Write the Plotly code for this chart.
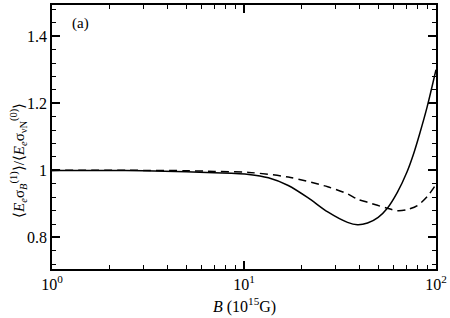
import plotly.graph_objects as go

# Data
b_solid = [1, 2, 3, 5, 7, 10.6, 13.4, 17.0, 21.6, 27.3, 34.6, 39.0, 44.0, 50.0, 55.8, 63.0, 70.6, 76.0, 82.3, 90.0, 100.0]
r_solid = [1.0, 1.0, 0.999, 0.996, 0.993, 0.988, 0.978, 0.955, 0.918, 0.876, 0.845, 0.838, 0.843, 0.86, 0.887, 0.935, 0.995, 1.045, 1.11, 1.19, 1.30]

b_dash = [1, 3, 5, 7, 10.6, 17.0, 27.3, 34.6, 39.0, 44.0, 55.8, 63.0, 70.6, 80.0, 90.0, 100.0]
r_dash = [1.0, 1.0, 0.999, 0.997, 0.994, 0.98, 0.951, 0.93, 0.914, 0.905, 0.887, 0.88, 0.883, 0.895, 0.922, 0.958]

x_ticks = [1, 10, 100]
x_ticktext = ["10<sup>0</sup>", "10<sup>1</sup>", "10<sup>2</sup>"]
x_minor = [m * d for d in (1, 10) for m in range(2, 10)]
y_ticks = [0.8, 1.0, 1.2, 1.4]
y_ticktext = ["0.8", "1", "1.2", "1.4"]
y_minor = [0.72, 0.76, 0.84, 0.88, 0.92, 0.96, 1.04, 1.08, 1.12, 1.16, 1.24, 1.28, 1.32, 1.36, 1.44, 1.48]

font = "Liberation Serif"

fig = go.Figure()
fig.add_trace(go.Scatter(x=b_solid, y=r_solid, mode="lines",
                         line=dict(color="black", width=1.5, shape="spline", smoothing=0.8), showlegend=False))
fig.add_trace(go.Scatter(x=b_dash, y=r_dash, mode="lines",
                         line=dict(color="black", width=1.5, dash="8px,5px", shape="spline", smoothing=0.8), showlegend=False))

fig.update_xaxes(type="log", range=[0, 2], tickmode="array", tickvals=x_ticks, ticktext=x_ticktext,
                 showgrid=False, zeroline=False, showline=True, linecolor="black", linewidth=1.5,
                 mirror="ticks", ticks="inside", ticklen=8, tickwidth=1.5, tickcolor="black",
                 minor=dict(tickmode="array", tickvals=x_minor, ticks="inside", ticklen=4,
                            tickcolor="black", tickwidth=1, showgrid=False),
                 tickfont=dict(family=font, size=16, color="black"))
fig.update_yaxes(range=[0.706, 1.493], tickmode="array", tickvals=y_ticks, ticktext=y_ticktext,
                 showgrid=False, zeroline=False, showline=True, linecolor="black", linewidth=1.5,
                 mirror="ticks", ticks="inside", ticklen=8, tickwidth=1.5, tickcolor="black",
                 minor=dict(tickmode="array", tickvals=y_minor, ticks="inside", ticklen=4,
                            tickcolor="black", tickwidth=1, showgrid=False),
                 tickfont=dict(family=font, size=16, color="black"))

fig.add_annotation(x=0.5, y=-0.139, xref="paper", yref="paper",
                   text="<i>B</i> (10<sup>15</sup>G)", showarrow=False,
                   font=dict(family=font, size=16, color="black"), xanchor="center", yanchor="middle")
fig.add_annotation(x=-0.088, y=0.41, xref="paper", yref="paper", textangle=-90,
                   text="⟨<i>E</i><sub><i>e</i></sub>σ<sub><i>B</i></sub><sup>(1)</sup>⟩/⟨<i>E</i><sub><i>e</i></sub>σ<sub>νN</sub><sup>(0)</sup>⟩",
                   showarrow=False, font=dict(family=font, size=15, color="black"),
                   xanchor="center", yanchor="middle")
fig.add_annotation(x=0.075, y=0.929, xref="paper", yref="paper", text="(a)", showarrow=False,
                   font=dict(family=font, size=15, color="black"), xanchor="center", yanchor="middle")

fig.update_layout(width=450, height=318, margin=dict(l=52, r=12, t=3, b=49),
                  plot_bgcolor="white", paper_bgcolor="white")

fig.write_html("out.html", config={"displayModeBar": False},
               post_script="document.body.style.margin='0';")
